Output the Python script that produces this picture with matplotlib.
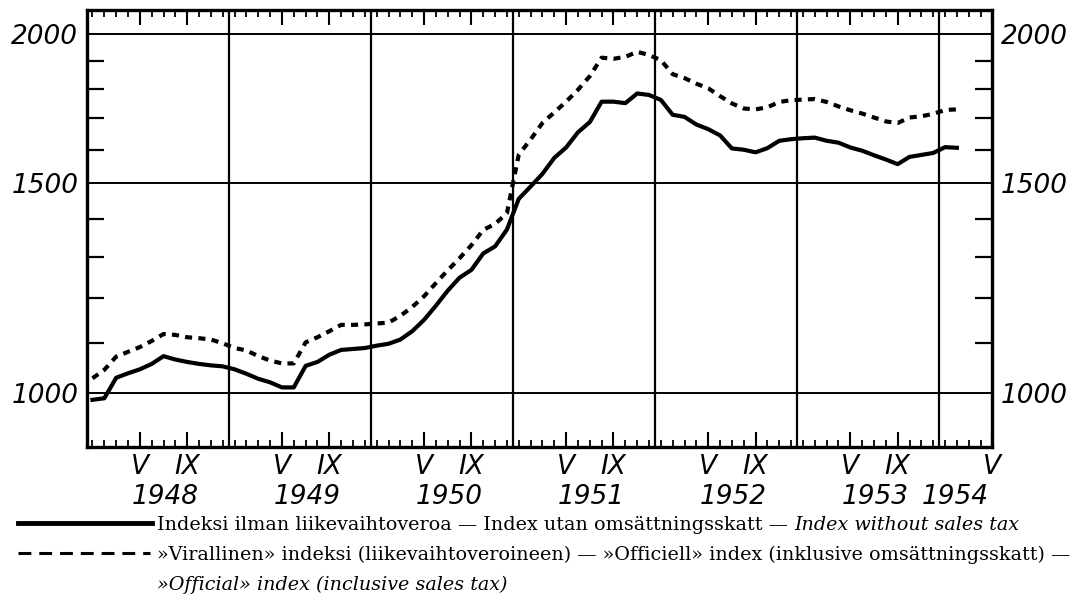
import numpy as np
import matplotlib
matplotlib.use('Agg')
import matplotlib.pyplot as plt
from matplotlib.lines import Line2D
from matplotlib.ticker import FixedLocator, FixedFormatter, NullFormatter

# monthly values, Jan 1948 .. Feb 1954, plotted at mid-month
index_no_tax = [986, 989, 1029, 1038, 1046, 1057, 1073, 1066, 1061, 1057, 1054, 1052,
                1046, 1037, 1027, 1020, 1010, 1010, 1053, 1061, 1076, 1086, 1088, 1090,
                1095, 1099, 1108, 1126, 1151, 1183, 1218, 1249, 1268, 1309, 1327, 1371,
                1455, 1490, 1527, 1575, 1607, 1655, 1688, 1756, 1756, 1751, 1784, 1779,
                1762, 1712, 1705, 1680, 1665, 1645, 1604, 1600, 1592, 1605, 1628, 1633,
                1636, 1638, 1628, 1622, 1607, 1597, 1583, 1570, 1556, 1578, 1584, 1590,
                1608, 1606]
index_official = [1028, 1045, 1072, 1082, 1092, 1105, 1120, 1118, 1113, 1111, 1108, 1100,
                  1090, 1085, 1073, 1064, 1058, 1058, 1102, 1113, 1126, 1140, 1140, 1141,
                  1143, 1145, 1160, 1180, 1205, 1236, 1267, 1297, 1330, 1370, 1386, 1415,
                  1585, 1632, 1685, 1720, 1756, 1797, 1845, 1912, 1908, 1915, 1934, 1922,
                  1903, 1852, 1838, 1818, 1802, 1775, 1750, 1733, 1730, 1737, 1755, 1761,
                  1763, 1765, 1755, 1740, 1727, 1716, 1703, 1690, 1685, 1703, 1707, 1715,
                  1728, 1730]
months = np.arange(len(index_no_tax)) + 0.5

years = [1948, 1949, 1950, 1951, 1952, 1953, 1954]
month_marks = [(5, 'V'), (9, 'IX')]
y_major = [1000, 1500, 2000]
y_minor = [1100, 1200, 1300, 1400, 1600, 1700, 1800, 1900]

legend_1 = 'Indeksi ilman liikevaihtoveroa — Index utan omsättningsskatt — '
legend_1i = 'Index without sales tax'
legend_2 = '»Virallinen» indeksi (liikevaihtoveroineen) — »Officiell» index (inklusive omsättningsskatt) —'
legend_3 = '»Official» index (inclusive sales tax)'

plt.rcParams['font.family'] = 'DejaVu Sans'
plt.rcParams['font.style'] = 'italic'

fig = plt.figure(figsize=(10.78, 6.02), dpi=100)
ax = fig.add_axes([0.0803, 0.2575, 0.8403, 0.7251])

ax.plot(months, index_no_tax, color='black', lw=3.0, solid_joinstyle='round')
ax.plot(months, index_official, color='black', lw=3.0, linestyle=(0, (1.7, 1.5)))

ax.set_yscale('log')
ax.set_xlim(0, 76.5)
ax.set_ylim(900, 2095)

# year boundaries
for y in years[1:]:
    ax.axvline((y - years[0]) * 12, color='black', lw=1.6)

ax.yaxis.set_major_locator(FixedLocator(y_major))
ax.yaxis.set_major_formatter(FixedFormatter([str(v) for v in y_major]))
ax.yaxis.set_minor_locator(FixedLocator(y_minor))
ax.yaxis.set_minor_formatter(NullFormatter())
ax.yaxis.grid(True, which='major', color='black', lw=1.4)

xt, xl = [], []
for y in years:
    for m, lab in month_marks:
        pos = (y - years[0]) * 12 + m - 0.5
        if pos <= 76.5:
            xt.append(pos)
            xl.append(lab)
ax.set_xticks(xt)
ax.set_xticklabels(xl)
ax.xaxis.set_minor_locator(FixedLocator(months.tolist() + [74.5, 75.5]))

ax.tick_params(axis='y', which='major', length=0, labelsize=19, labelleft=True,
               labelright=True, pad=6)
ax.tick_params(axis='y', which='minor', length=12, width=1.6, direction='in',
               left=True, right=True)
ax.tick_params(axis='x', which='major', length=11, width=1.5, direction='in',
               top=True, bottom=True, labelsize=19, pad=5)
ax.tick_params(axis='x', which='minor', length=5, width=1.3, direction='in',
               top=True, bottom=True)

for s in ax.spines.values():
    s.set_linewidth(2.4)

# year labels under V
for y in years:
    pos = (y - years[0]) * 12 + 4.5
    if y < years[-1]:
        ax.text(pos - 0.7, -0.085, str(y), transform=ax.get_xaxis_transform(),
                ha='left', va='top', fontsize=19)
    else:
        ax.text(pos - 0.3, -0.085, str(y), transform=ax.get_xaxis_transform(),
                ha='right', va='top', fontsize=19)

# legend
fig.add_artist(Line2D([0.017, 0.141], [0.131, 0.131], color='black', lw=3.5))
fig.add_artist(Line2D([0.017, 0.139], [0.0814, 0.0814], color='black', lw=2.2,
                      linestyle=(0, (4.2, 2.6))))
serif = dict(family='DejaVu Serif', fontsize=13.8)
t1 = fig.text(0.1456, 0.120, legend_1, style='normal', va='baseline', **serif)
ax.annotate(legend_1i, xy=(1, 0), xycoords=t1, va='bottom', ha='left',
            style='italic', annotation_clip=False, **serif)
fig.text(0.1456, 0.070, legend_2, style='normal', va='baseline', **serif)
fig.text(0.1456, 0.020, legend_3, style='italic', va='baseline', **serif)

fig.savefig('out.png', dpi=100, facecolor='white')
